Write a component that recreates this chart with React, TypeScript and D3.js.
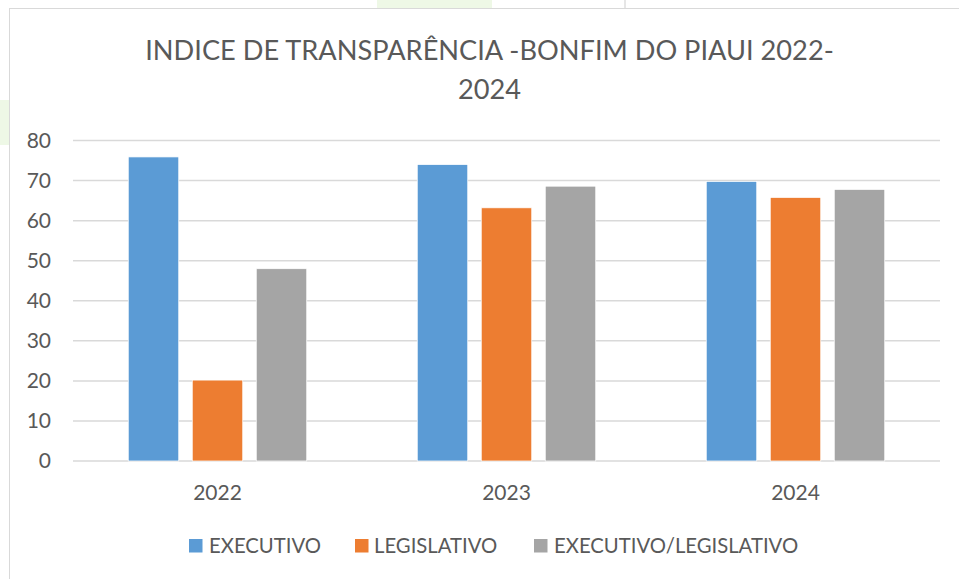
import React from "react";
import * as d3 from "d3";

const categories = ["2022", "2023", "2024"];
const seriesNames = ["EXECUTIVO", "LEGISLATIVO", "EXECUTIVO/LEGISLATIVO"];
const executivo = [75.9, 74.0, 69.8];
const legislativo = [20.2, 63.2, 65.8];
const execLegis = [48.0, 68.6, 67.8];
const yTicks = [0, 10, 20, 30, 40, 50, 60, 70, 80];
const titleLines = ["INDICE DE TRANSPARÊNCIA -BONFIM DO PIAUI 2022-", "2024"];

const colors = ["#5B9BD5", "#ED7D31", "#A5A5A5"];
const textColor = "#595959";
const font = "Lato, 'Open Sans', sans-serif";

export default function App() {
  const W = 959;
  const H = 579;
  const left = 73;
  const right = 940;
  const y0 = 461;
  const yTop = 140.5;

  const x = d3.scaleBand<string>().domain(categories).range([left, right]).paddingInner(0).paddingOuter(0);
  const groupWidth = 178.5;
  const inner = d3
    .scaleBand<string>()
    .domain(seriesNames)
    .range([0, groupWidth])
    .paddingInner(13.5 / 64)
    .paddingOuter(0);
  const y = d3.scaleLinear().domain([0, 80]).range([y0, yTop]);

  const seriesValues = [executivo, legislativo, execLegis];

  const legendItems = [
    { sq: 189, tx: 209 },
    { sq: 355, tx: 374 },
    { sq: 534, tx: 554 },
  ];

  return (
    <svg
      width={W}
      height={H}
      style={{ position: "absolute", left: 0, top: 0, background: "#ffffff" }}
      fontFamily={font}
    >
      {/* faint background artefacts outside the chart */}
      <rect x={377} y={0} width={115} height={8} fill="#eef8e6" />
      <rect x={624} y={0} width={2} height={8} fill="#e6e6e6" />
      <rect x={0} y={100} width={9} height={45} fill="#eef8e6" />

      {/* chart area */}
      <rect x={9.5} y={8.5} width={W + 10} height={H + 10} fill="#ffffff" stroke="#d9d9d9" strokeWidth={1} />

      {/* title */}
      {titleLines.map((t, i) => (
        <text
          key={i}
          x={489.5}
          y={60 + i * 39}
          textAnchor="middle"
          fontSize={27.2}
          fill={textColor}
        >
          {t}
        </text>
      ))}

      {/* gridlines */}
      {yTicks.map((t) => (
        <line key={t} x1={left} x2={right} y1={y(t)} y2={y(t)} stroke="#d9d9d9" strokeWidth={1.5} />
      ))}

      {/* y labels */}
      {yTicks.map((t) => (
        <text key={t} x={51} y={y(t)} dy="0.35em" textAnchor="end" fontSize={21} fill={textColor}>
          {t}
        </text>
      ))}

      {/* bars */}
      {categories.map((c, ci) => {
        const gx = (x(c) as number) + (x.bandwidth() - groupWidth) / 2;
        return (
          <g key={c}>
            {seriesNames.map((s, si) => {
              const v = seriesValues[si][ci];
              return (
                <rect
                  key={s}
                  x={gx + (inner(s) as number)}
                  y={y(v)}
                  width={inner.bandwidth()}
                  height={y0 - y(v)}
                  fill={colors[si]}
                  stroke="#ffffff"
                  strokeWidth={0.75}
                />
              );
            })}
          </g>
        );
      })}

      {/* x labels */}
      {categories.map((c) => (
        <text
          key={c}
          x={(x(c) as number) + x.bandwidth() / 2}
          y={500}
          textAnchor="middle"
          fontSize={21}
          fill={textColor}
        >
          {c}
        </text>
      ))}

      {/* legend */}
      {seriesNames.map((s, i) => (
        <g key={s}>
          <rect x={legendItems[i].sq} y={539} width={13.5} height={13.5} fill={colors[i]} />
          <text x={legendItems[i].tx} y={553} fontSize={20.3} fill={textColor}>
            {s}
          </text>
        </g>
      ))}
    </svg>
  );
}
